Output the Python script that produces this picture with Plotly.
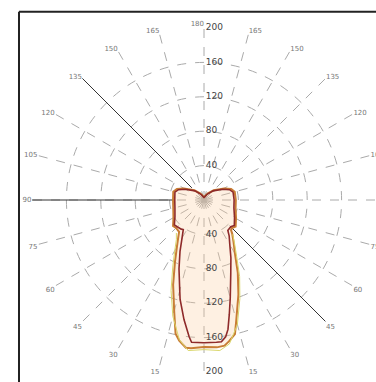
import plotly.graph_objects as go

# Photometric angles (gamma, 0 = straight down, +right / -left) and intensities (cd)
gamma_c0 = [-165, -150, -135, -120, -112, -105, -90, -75, -60, -50, -45, -38, -35, -30, -25,
            -20, -15, -12, -10, -7, -5, 0, 5, 8, 10, 13, 15, 20, 25, 30, 35, 40, 42, 45, 50,
            60, 75, 90, 105, 112, 120, 135, 150, 165, 180]
cd_c0 = [5, 9, 16, 27, 34, 37, 36, 37, 41, 47, 46, 47, 52, 63, 80,
         105, 134, 159, 166, 173, 173, 171, 172, 171, 167, 160, 145, 117, 93, 72, 60, 51, 47, 46, 48,
         43, 38, 37, 37, 34, 27, 16, 9, 5, 3.5]

gamma_c90 = [-165, -150, -135, -120, -112, -105, -90, -75, -60, -50, -45, -38, -35, -30, -25,
             -20, -15, -13.5, -9.5, -6.2, -5, 0, 5, 7, 9, 10.5, 12.5, 15, 20, 25, 30, 35, 38, 45, 50,
             60, 75, 90, 105, 112, 120, 135, 150, 165, 180]
cd_c90 = [4, 8, 15, 25, 32, 35, 34, 35, 39, 45, 44, 43, 42, 51, 66,
          85, 109, 119, 141, 160, 166, 166, 166, 166, 161, 153, 136, 118, 91, 74, 60, 51, 45, 44, 46,
          41, 36, 35, 35, 32, 25, 15, 8, 4, 3]

gamma_c45 = [-40, -35, -30, -25, -20, -15, -10, -6, 0, 6, 10, 15, 20, 25, 30, 35, 40]
cd_c45 = [50, 56, 68, 86, 112, 140, 165, 176, 174, 176, 170, 150, 122, 98, 76, 62, 52]

radial_ticks = [40, 80, 120, 160, 200]
angle_ticks = list(range(0, 360, 15))
angle_text = ["" if a in (0, 180) else str(a if a < 180 else 360 - a) for a in angle_ticks]
top_label = "180"

fig = go.Figure()

# beam marker lines
fig.add_trace(go.Scatterpolar(r=[36, 205], theta=[-90, -90], mode="lines",
                              line=dict(color="#333333", width=1), showlegend=False, hoverinfo="skip"))
fig.add_trace(go.Scatterpolar(r=[20, 202], theta=[-135, -135], mode="lines",
                              line=dict(color="#333333", width=1), showlegend=False, hoverinfo="skip"))
fig.add_trace(go.Scatterpolar(r=[46, 200], theta=[45, 45], mode="lines",
                              line=dict(color="#333333", width=1), showlegend=False, hoverinfo="skip"))

# curves
fig.add_trace(go.Scatterpolar(r=cd_c0 + [cd_c0[0]], theta=gamma_c0 + [gamma_c0[0]], mode="lines",
                              fill="toself", fillcolor="rgba(252,205,160,0.30)",
                              line=dict(color="#c87d35", width=2), name="C0-C180", showlegend=False))
fig.add_trace(go.Scatterpolar(r=cd_c45, theta=gamma_c45, mode="lines",
                              line=dict(color="#d9d66a", width=1), name="C45", showlegend=False))
fig.add_trace(go.Scatterpolar(r=cd_c90 + [cd_c90[0]], theta=gamma_c90 + [gamma_c90[0]], mode="lines",
                              line=dict(color="#8e2a2a", width=1.6), name="C90-C270", showlegend=False))

# radial labels (up and down)
for th in (180, 0):
    fig.add_trace(go.Scatterpolar(r=radial_ticks, theta=[th] * len(radial_ticks), mode="text",
                                  text=["\u2009" + str(v) for v in radial_ticks], textposition="middle right",
                                  textfont=dict(size=9, color="#444444", family="DejaVu Sans"),
                                  showlegend=False, hoverinfo="skip", cliponaxis=False))

# small 180 label above the top
fig.add_trace(go.Scatterpolar(r=[200], theta=[180], mode="text", text=[top_label],
                              textposition="top left",
                              textfont=dict(size=7, color="#777777", family="DejaVu Sans"),
                              showlegend=False, hoverinfo="skip", cliponaxis=False))

fig.update_layout(
    width=376, height=382,
    margin=dict(l=32, r=0, t=28, b=10, autoexpand=False),
    paper_bgcolor="white",
    showlegend=False,
    polar=dict(
        bgcolor="white",
        domain=dict(x=[0, 1], y=[0, 1]),
        radialaxis=dict(range=[0, 200], tickvals=radial_ticks, showticklabels=False, ticks="",
                        showline=False, gridcolor="#aaaaaa", griddash="dash", gridwidth=1),
        angularaxis=dict(rotation=270, direction="counterclockwise",
                         tickmode="array", tickvals=angle_ticks, ticktext=angle_text,
                         tickfont=dict(size=7, color="#777777", family="DejaVu Sans"),
                         ticks="", showline=False,
                         gridcolor="#aaaaaa", griddash="dash", gridwidth=1),
    ),
    shapes=[
        dict(type="line", xref="paper", yref="paper", x0=-0.0378, x1=-0.0378, y0=1.047, y1=-0.04,
             line=dict(color="#222222", width=2)),
        dict(type="line", xref="paper", yref="paper", x0=-0.0378, x1=1.0, y0=1.047, y1=1.047,
             line=dict(color="#222222", width=2)),
    ],
)

fig.write_html("out.html", config={"displayModeBar": False},
               post_script="document.body.style.margin='0';document.body.style.padding='0';")
